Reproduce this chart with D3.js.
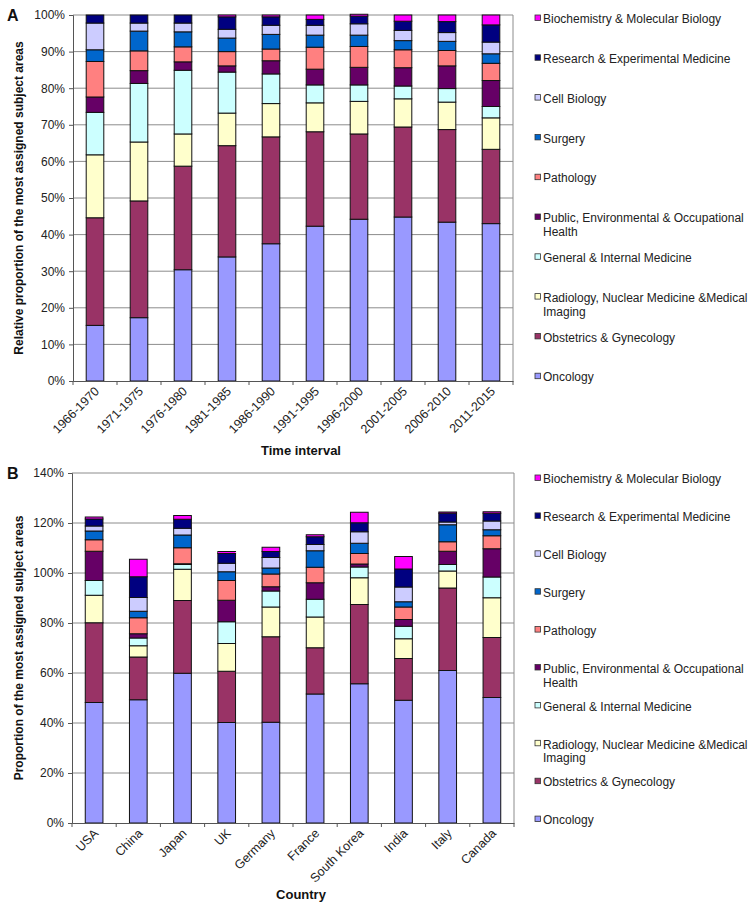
<!DOCTYPE html>
<html><head><meta charset="utf-8">
<script src="https://cdn.jsdelivr.net/npm/d3@7"></script>
<style>body{margin:0;background:#fff}svg{display:block;font-family:"Liberation Sans",Arial,sans-serif}</style>
</head><body><svg id="c" width="750" height="910"></svg>
<script>
const subjects = ["Oncology","Obstetrics & Gynecology","Radiology, Nuclear Medicine &Medical Imaging","General & Internal Medicine","Public, Environmental & Occupational Health","Pathology","Surgery","Cell Biology","Research & Experimental Medicine","Biochemistry & Molecular Biology"];
const colors = ["#9999FF","#993366","#FFFFCC","#CCFFFF","#660066","#FF8080","#0066CC","#CCCCFF","#000080","#FF00FF"];
const legendLines = [["Oncology"],["Obstetrics & Gynecology"],["Radiology, Nuclear Medicine &Medical","Imaging"],["General & Internal Medicine"],["Public, Environmental & Occupational","Health"],["Pathology"],["Surgery"],["Cell Biology"],["Research & Experimental Medicine"],["Biochemistry & Molecular Biology"]];

const intervals = ["1966-1970","1971-1975","1976-1980","1981-1985","1986-1990","1991-1995","1996-2000","2001-2005","2006-2010","2011-2015"];
// values per subject (same order as subjects), one entry per interval
const aOncology     = [15.2,17.3,30.4,33.9,37.5,42.3,44.2,44.8,43.4,43.0];
const aObstetrics   = [29.4,31.9,28.3,30.4,29.2,25.8,23.3,24.6,25.3,20.3];
const aRadiology    = [17.2,16.1,8.8,8.9,9.1,7.9,8.9,7.7,7.5,8.6];
const aGeneral      = [11.6,16.0,17.4,11.2,8.1,4.9,4.5,3.5,3.7,3.1];
const aPublicHealth = [4.2,3.5,2.3,1.7,3.6,4.3,4.8,5.0,6.2,7.1];
const aPathology    = [9.7,5.4,4.1,3.9,3.2,6.0,5.7,4.9,4.2,4.7];
const aSurgery      = [3.2,5.4,4.1,3.7,4.0,3.3,3.1,2.5,2.5,2.6];
const aCellBiology  = [7.3,2.2,2.4,2.4,2.5,2.7,3.1,2.8,2.4,3.2];
const aResearch     = [2.2,2.2,2.2,3.4,2.3,1.6,2.1,2.5,3.0,4.7];
const aBiochemistry = [0,0,0,0.5,0.5,1.2,0.5,1.7,1.8,2.7];
const aTicks = ["0%","10%","20%","30%","40%","50%","60%","70%","80%","90%","100%"];

const countries = ["USA","China","Japan","UK","Germany","France","South Korea","India","Italy","Canada"];
const bOncology     = [48.2,49.3,59.9,40.2,40.3,51.6,55.7,49.1,61.0,50.2];
const bObstetrics   = [31.9,17.1,29.1,20.5,34.2,18.5,31.7,16.7,33.0,24.0];
const bRadiology    = [11.0,4.5,12.5,11.1,11.9,12.3,10.7,7.9,6.8,15.9];
const bGeneral      = [5.9,3.1,1.9,8.7,6.4,7.1,4.3,5.0,2.6,8.3];
const bPublicHealth = [11.7,1.7,0.3,8.6,1.7,6.6,1.2,2.7,5.3,11.3];
const bPathology    = [4.6,6.4,6.4,7.9,5.1,6.2,4.2,5.0,3.8,5.2];
const bSurgery      = [3.5,2.6,5.1,3.5,2.4,6.6,4.1,2.1,6.8,2.4];
const bCellBiology  = [2.0,5.5,2.7,3.4,4.2,2.5,4.6,5.9,1.1,3.5];
const bResearch     = [2.8,8.3,3.6,3.9,2.4,3.1,3.6,7.2,3.5,3.1];
const bBiochemistry = [0.8,7.0,1.5,0.8,1.7,0.8,4.2,5.0,0.5,0.6];
const bTicks = ["0%","20%","40%","60%","80%","100%","120%","140%"];

const svg = d3.select("#c");

function panel(cfg){
  const {cats, series, ticks, yMax, top, bottom, left, right, letter, yTitle, xTitle, xTitleY, legendTop, legendStep} = cfg;
  const g = svg.append("g");
  const x = d3.scaleBand().domain(cats).range([left,right]).paddingInner(0.6).paddingOuter(0.3);
  const xb = d3.scaleBand().domain(cats).range([left,right]);
  const y = d3.scaleLinear().domain([0,yMax]).range([bottom,top]);
  const tickVals = ticks.map(t=>parseFloat(t));
  // gridlines
  g.append("g").selectAll("line").data(tickVals.filter(v=>v>0)).join("line")
    .attr("x1",left).attr("x2",right).attr("y1",d=>y(d)).attr("y2",d=>y(d))
    .attr("stroke","#8c8c8c").attr("stroke-width",1);
  g.append("line").attr("x1",right).attr("x2",right).attr("y1",top).attr("y2",bottom).attr("stroke","#8c8c8c");
  // stacked bars
  const rows = cats.map((c,i)=>{const r={cat:c}; subjects.forEach((s,j)=>r[s]=series[j][i]); return r;});
  const stack = d3.stack().keys(subjects)(rows);
  g.append("g").selectAll("g").data(stack).join("g").attr("fill",(d,i)=>colors[i])
    .selectAll("rect").data(d=>d.filter(p=>p[1]-p[0]>0)).join("rect")
    .attr("x",d=>x(d.data.cat)).attr("width",x.bandwidth())
    .attr("y",d=>y(d[1])).attr("height",d=>y(d[0])-y(d[1]))
    .attr("stroke","#111").attr("stroke-width",1);
  // y axis
  const ya = g.append("g").attr("transform",`translate(${left},0)`)
    .call(d3.axisLeft(y).tickValues(tickVals).tickFormat(d=>d+"%").tickSize(4).tickPadding(4));
  ya.select(".domain").attr("stroke","#555");
  ya.selectAll(".tick line").attr("stroke","#555");
  ya.selectAll("text").attr("font-size",12).attr("fill","#222").attr("font-family","Liberation Sans, Arial, sans-serif");
  // x axis
  const xa = g.append("g").attr("transform",`translate(0,${bottom})`)
    .call(d3.axisBottom(xb).tickSize(0).tickFormat(""));
  xa.select(".domain").attr("stroke","#555");
  const bounds = d3.range(cats.length+1).map(i=>left + i*xb.step());
  g.append("g").selectAll("line").data(bounds).join("line")
    .attr("x1",d=>d).attr("x2",d=>d).attr("y1",bottom).attr("y2",bottom+4).attr("stroke","#555");
  g.append("g").selectAll("text").data(cats).join("text")
    .attr("transform",d=>`translate(${xb(d)+xb.bandwidth()/2+5},${bottom+11}) rotate(-45)`)
    .attr("text-anchor","end").attr("font-size",12.5).attr("fill","#222").text(d=>d);
  // titles
  g.append("text").attr("transform",`translate(23,${(top+bottom)/2}) rotate(-90)`)
    .attr("text-anchor","middle").attr("font-size",12).attr("font-weight","bold").attr("fill","#111").text(yTitle);
  g.append("text").attr("x",(left+right)/2+8).attr("y",xTitleY).attr("text-anchor","middle")
    .attr("font-size",13).attr("font-weight","bold").attr("fill","#111").text(xTitle);
  g.append("text").attr("x",7).attr("y",top+6).attr("font-size",16).attr("font-weight","bold").attr("fill","#111").text(letter);
  // legend (top-to-bottom reversed order)
  const order = d3.range(subjects.length).reverse();
  const lg = g.append("g").selectAll("g").data(order).join("g")
    .attr("transform",(d,k)=>`translate(535,${legendTop + k*legendStep})`);
  lg.append("rect").attr("x",0).attr("y",-4).attr("width",5.5).attr("height",5.5)
    .attr("fill",d=>colors[d]).attr("stroke","#333").attr("stroke-width",0.8);
  lg.append("text").attr("x",8).attr("y",0).attr("font-size",12).attr("fill","#222")
    .selectAll("tspan").data(d=>legendLines[d]).join("tspan").attr("x",8).attr("dy",(t,i)=>i===0?"0.35em":"1.15em").text(t=>t);
}

panel({cats:intervals, series:[aOncology,aObstetrics,aRadiology,aGeneral,aPublicHealth,aPathology,aSurgery,aCellBiology,aResearch,aBiochemistry],
  ticks:aTicks, yMax:100, top:15, bottom:381, left:73, right:513, letter:"A",
  yTitle:"Relative proportion of the most assigned subject areas", xTitle:"Time interval", xTitleY:455,
  legendTop:19, legendStep:39.8});
panel({cats:countries, series:[bOncology,bObstetrics,bRadiology,bGeneral,bPublicHealth,bPathology,bSurgery,bCellBiology,bResearch,bBiochemistry],
  ticks:bTicks, yMax:140, top:473, bottom:823, left:72, right:514, letter:"B",
  yTitle:"Proportion of the most assigned subject areas", xTitle:"Country", xTitleY:899,
  legendTop:479, legendStep:37.9});
</script></body></html>
